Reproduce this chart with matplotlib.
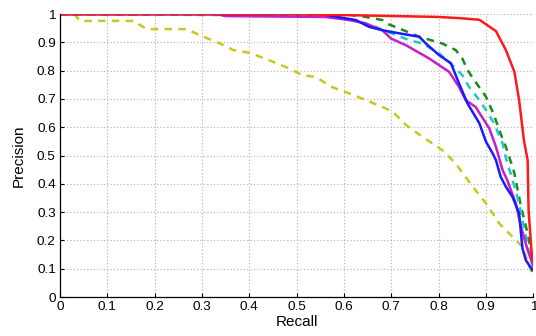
import matplotlib
matplotlib.use("Agg")
import matplotlib.pyplot as plt

plt.rcParams['font.family'] = ['Liberation Sans', 'DejaVu Sans']

red_r = [0.0, 0.5, 0.8, 0.85, 0.886, 0.921, 0.942, 0.96, 0.97, 0.98, 0.988, 0.99, 0.997, 1.0]
red_p = [1.0, 1.0, 0.99, 0.985, 0.98, 0.94, 0.873, 0.796, 0.696, 0.555, 0.484, 0.307, 0.142, 0.12]

blue_r = [0.0, 0.3, 0.555, 0.576, 0.625, 0.653, 0.681, 0.717, 0.759, 0.773, 0.801, 0.826, 0.843,
          0.861, 0.886, 0.9, 0.914, 0.921, 0.931, 0.942, 0.956, 0.97, 0.977, 0.984, 0.998]
blue_p = [1.0, 1.0, 1.0, 0.993, 0.979, 0.955, 0.943, 0.932, 0.92, 0.896, 0.855, 0.826, 0.755,
          0.684, 0.614, 0.549, 0.508, 0.484, 0.425, 0.39, 0.354, 0.296, 0.172, 0.131, 0.095]

mag_r = [0.0, 0.33, 0.35, 0.56, 0.611, 0.646, 0.681, 0.699, 0.731, 0.78, 0.822, 0.843, 0.857,
         0.878, 0.907, 0.921, 0.935, 0.945, 0.963, 0.974, 0.988, 1.0]
mag_p = [1.0, 1.0, 0.993, 0.99, 0.979, 0.967, 0.943, 0.914, 0.89, 0.843, 0.796, 0.743, 0.696,
         0.672, 0.596, 0.531, 0.449, 0.413, 0.331, 0.248, 0.166, 0.11]

cyan_r = [0.0, 0.505, 0.58, 0.63, 0.667, 0.688, 0.738, 0.766, 0.801, 0.822, 0.85, 0.864, 0.886,
          0.9, 0.917, 0.935, 0.945, 0.952, 0.97, 0.98, 0.99, 1.0]
cyan_p = [1.0, 0.995, 0.99, 0.975, 0.955, 0.94, 0.908, 0.896, 0.861, 0.831, 0.784, 0.743, 0.696,
          0.661, 0.614, 0.543, 0.472, 0.437, 0.331, 0.248, 0.166, 0.1]

green_r = [0.0, 0.6, 0.646, 0.681, 0.69, 0.717, 0.759, 0.808, 0.836, 0.85, 0.861, 0.875, 0.9,
           0.917, 0.928, 0.942, 0.956, 0.96, 0.974, 0.988, 1.0]
green_p = [1.0, 1.0, 0.99, 0.979, 0.967, 0.949, 0.92, 0.896, 0.873, 0.843, 0.802, 0.767, 0.708,
           0.643, 0.59, 0.531, 0.46, 0.437, 0.319, 0.225, 0.12]

yel_r = [0.0, 0.03, 0.042, 0.155, 0.183, 0.267, 0.295, 0.338, 0.366, 0.401, 0.442, 0.484, 0.512,
         0.54, 0.576, 0.611, 0.646, 0.681, 0.703, 0.731, 0.766, 0.808, 0.836, 0.872, 0.9,
         0.928, 0.963, 0.977, 0.998]
yel_p = [1.0, 1.0, 0.976, 0.976, 0.947, 0.947, 0.926, 0.896, 0.873, 0.863, 0.837, 0.808, 0.784,
         0.778, 0.741, 0.72, 0.696, 0.672, 0.655, 0.608, 0.566, 0.519, 0.472, 0.39, 0.331,
         0.26, 0.201, 0.178, 0.078]

x_ticks = [0, 0.1, 0.2, 0.3, 0.4, 0.5, 0.6, 0.7, 0.8, 0.9, 1]
x_labels = ['0', '0.1', '0.2', '0.3', '0.4', '0.5', '0.6', '0.7', '0.8', '0.9', '1']
y_ticks = x_ticks
y_labels = x_labels

fig = plt.figure(figsize=(5.36, 3.36), dpi=100)
ax = fig.add_axes([0.112, 0.116, 0.883, 0.842])

lw = 1.8
ax.plot(yel_r, yel_p, color='#c8c81e', lw=lw, ls=(0, (3, 2.5)))
ax.plot(green_r, green_p, color='#1a8c1a', lw=lw, ls=(0, (3, 2.5)))
ax.plot(cyan_r, cyan_p, color='#1fc8c8', lw=lw, ls=(0, (3, 2.5)))
ax.plot(mag_r, mag_p, color='#c51fc5', lw=lw)
ax.plot(blue_r, blue_p, color='#1a1aff', lw=lw)
ax.plot(red_r, red_p, color='#ff1a1a', lw=lw)

ax.set_xlim(0, 1)
ax.set_ylim(0, 1)
ax.set_xticks(x_ticks)
ax.set_xticklabels(x_labels)
ax.set_yticks(y_ticks)
ax.set_yticklabels(y_labels)
ax.tick_params(direction='in', length=3, width=0.8, labelsize=9.7, pad=3)
ax.grid(True, color='#b0b0b0', ls=(0, (1, 2)), lw=0.8)
ax.spines['top'].set_visible(False)
ax.spines['right'].set_visible(False)
ax.set_xlabel('Recall', fontsize=11, labelpad=1)
ax.set_ylabel('Precision', fontsize=11, labelpad=8)
for sp in ax.spines.values():
    sp.set_linewidth(0.9)

fig.savefig('out.png', dpi=100)
